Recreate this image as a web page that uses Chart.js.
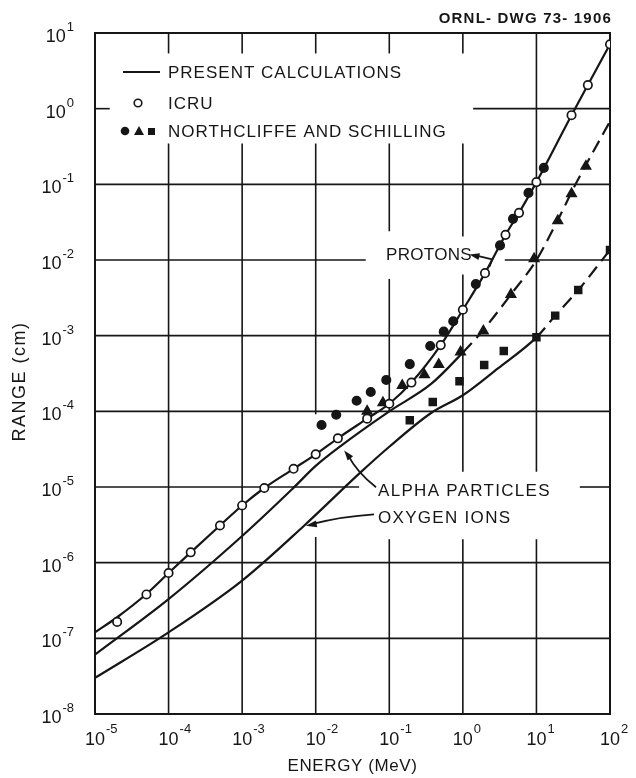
<!DOCTYPE html>
<html>
<head>
<meta charset="utf-8">
<script src="https://cdn.jsdelivr.net/npm/chart.js@4.4.1/dist/chart.umd.min.js"></script>
<style>
  html, body { margin: 0; padding: 0; background: #fff; }
  canvas { display: block; }
</style>
</head>
<body>
<canvas id="chart" width="636" height="778"></canvas>
<script>
// values: energy in MeV, range in cm
const energyTicks = [1e-5, 1e-4, 1e-3, 1e-2, 1e-1, 1, 10, 100];
const rangeTicks = [1e-8, 1e-7, 1e-6, 1e-5, 1e-4, 1e-3, 1e-2, 1e-1, 1, 10];

// present calculations (curves)
const protonCalcE = [1e-5, 2e-5, 5e-5, 1e-4, 2e-4, 5e-4, 1e-3, 2e-3, 5e-3, 1e-2, 2e-2, 5e-2, 0.1, 0.2, 0.5, 1, 2, 3.8, 5.8, 10, 30, 50, 100];
const protonCalcR = [1.2e-7, 1.9e-7, 3.85e-7, 7.3e-7, 1.37e-6, 3.1e-6, 5.7e-6, 9.7e-6, 1.74e-5, 2.7e-5, 4.4e-5, 8.0e-5, 1.26e-4, 2.4e-4, 7.5e-4, 2.2e-3, 6.7e-3, 0.0215, 0.042, 0.107, 0.82, 2.05, 7.1];

const alphaCalcE = [1e-5, 1e-4, 1e-3, 4.8e-3, 1e-2, 2.2e-2, 0.1, 0.37, 1, 1.8, 4.6, 10, 19, 34, 100];
const alphaCalcR = [6.1e-8, 3.3e-7, 2.25e-6, 9.4e-6, 1.9e-5, 3.5e-5, 1.0e-4, 2.3e-4, 6.0e-4, 1.12e-3, 3.6e-3, 0.01, 0.032, 0.1, 0.68];

const oxygenCalcE = [1e-5, 1e-4, 1e-3, 7e-3, 0.041, 0.1, 0.37, 1, 3, 10, 18, 37, 100];
const oxygenCalcR = [3.0e-8, 1.2e-7, 5.8e-7, 3.1e-6, 1.57e-5, 3.4e-5, 9.5e-5, 1.63e-4, 3.7e-4, 9.5e-4, 1.84e-3, 4.0e-3, 0.0136];

// ICRU (open circles)
const icruE = [2e-5, 5e-5, 1e-4, 2e-4, 5e-4, 1e-3, 2e-3, 5e-3, 1e-2, 2e-2, 5e-2, 0.1, 0.2, 0.5, 1, 2, 3.8, 5.8, 10, 30, 50, 100];
const icruR = [1.65e-7, 3.8e-7, 7.3e-7, 1.37e-6, 3.1e-6, 5.7e-6, 9.7e-6, 1.74e-5, 2.7e-5, 4.4e-5, 8.0e-5, 1.26e-4, 2.4e-4, 7.5e-4, 2.2e-3, 6.7e-3, 0.0215, 0.042, 0.107, 0.82, 2.05, 7.1];

// Northcliffe and Schilling
const nsProtonE = [0.012, 0.019, 0.036, 0.056, 0.091, 0.19, 0.36, 0.55, 0.74, 1.5, 3.2, 4.8, 7.8, 12.6];
const nsProtonR = [6.6e-5, 9.0e-5, 1.38e-4, 1.8e-4, 2.6e-4, 4.2e-4, 7.3e-4, 1.13e-3, 1.55e-3, 4.8e-3, 0.0156, 0.035, 0.077, 0.165];

const nsAlphaE = [0.05, 0.082, 0.15, 0.3, 0.47, 0.93, 1.9, 4.5, 9.3, 19.5, 30, 47];
const nsAlphaR = [1.0e-4, 1.3e-4, 2.2e-4, 3.05e-4, 4.15e-4, 6.1e-4, 1.15e-3, 3.5e-3, 0.0104, 0.033, 0.075, 0.174];

const nsOxygenE = [0.19, 0.39, 0.9, 1.95, 3.6, 10, 18, 37, 100];
const nsOxygenR = [7.6e-5, 1.33e-4, 2.5e-4, 4.1e-4, 6.25e-4, 9.5e-4, 1.84e-3, 4.0e-3, 0.0136];

const INK = '#161616';
const FONT = '"Liberation Sans", Arial, "DejaVu Sans", sans-serif';

// where the drafter left the grid open for lettering (log10 units)
const gridGaps = {
	vertical: {
		'-4': [[0.73, -0.46]],
		'-3': [[0.73, -0.46]],
		'-2': [[0.73, -0.46], [-4.04, -5.66]],
		'-1': [[0.73, -0.46], [-1.62, -2.25], [-4.01, -5.69]],
		'0': [[0.73, -0.46], [-1.69, -2.19], [-4.8, -5.69]],
		'1': [[-4.8, -5.69]]
	},
	horizontal: {
		'0': [[-4.8, 0.14]],
		'-2': [[-1.32, 0.57]],
		'-5': [[-1.41, 1.59]]
	}
};

const pts = (xs, ys) => xs.map((v, i) => ({ x: v, y: ys[i] }));

function openSegments(lo, hi, gaps) {
	const g = gaps.map(([p, q]) => [Math.min(p, q), Math.max(p, q)]).sort((m, n) => m[0] - n[0]);
	const out = [];
	let cur = lo;
	g.forEach(([p, q]) => {
		if (p > cur) out.push([cur, p]);
		cur = Math.max(cur, q);
	});
	if (cur < hi) out.push([cur, hi]);
	return out;
}

function strokeLine(ctx, x1, y1, x2, y2) {
	ctx.beginPath();
	ctx.moveTo(x1, y1);
	ctx.lineTo(x2, y2);
	ctx.stroke();
}

function arrowHead(ctx, tipX, tipY, fromX, fromY, len, half) {
	const ang = Math.atan2(tipY - fromY, tipX - fromX);
	ctx.beginPath();
	ctx.moveTo(tipX, tipY);
	ctx.lineTo(tipX - len * Math.cos(ang) + half * Math.sin(ang), tipY - len * Math.sin(ang) - half * Math.cos(ang));
	ctx.lineTo(tipX - len * Math.cos(ang) - half * Math.sin(ang), tipY - len * Math.sin(ang) + half * Math.cos(ang));
	ctx.closePath();
	ctx.fill();
}

const paperGrid = {
	id: 'paperGrid',
	beforeDatasetsDraw(chart) {
		const { ctx, chartArea: a, scales: { x, y } } = chart;
		ctx.save();
		ctx.strokeStyle = INK;
		ctx.lineWidth = 1.6;
		for (let k = -4; k <= 1; k++) {
			const px = x.getPixelForValue(10 ** k);
			openSegments(-8, 1, gridGaps.vertical[k] || []).forEach(([lo, hi]) => {
				strokeLine(ctx, px, y.getPixelForValue(10 ** lo), px, y.getPixelForValue(10 ** hi));
			});
		}
		for (let k = -7; k <= 0; k++) {
			const py = y.getPixelForValue(10 ** k);
			openSegments(-5, 2, gridGaps.horizontal[k] || []).forEach(([lo, hi]) => {
				strokeLine(ctx, x.getPixelForValue(10 ** lo), py, x.getPixelForValue(10 ** hi), py);
			});
		}
		ctx.lineWidth = 2;
		ctx.strokeRect(a.left, a.top, a.right - a.left, a.bottom - a.top);
		ctx.restore();
	}
};

const lettering = {
	id: 'lettering',
	afterDraw(chart) {
		const { ctx, chartArea: a, scales: { x, y } } = chart;
		const P = (le, lr) => [x.getPixelForValue(10 ** le), y.getPixelForValue(10 ** lr)];
		ctx.save();
		ctx.fillStyle = INK;
		ctx.strokeStyle = INK;
		ctx.textBaseline = 'alphabetic';

		// tick labels, 10 with raised exponent
		rangeTicks.forEach(v => {
			const py = y.getPixelForValue(v);
			const e = String(Math.round(Math.log10(v)));
			ctx.font = '18px ' + FONT;
			const bw = ctx.measureText('10').width;
			ctx.font = '13px ' + FONT;
			const ew = ctx.measureText(e).width;
			const start = a.left - 21 - bw - ew - 1;
			ctx.font = '18px ' + FONT;
			ctx.fillText('10', start, py + 9);
			ctx.font = '13px ' + FONT;
			ctx.fillText(e, start + bw + 1, py - 2);
		});
		energyTicks.forEach(v => {
			const px = x.getPixelForValue(v);
			const e = String(Math.round(Math.log10(v)));
			ctx.font = '18px ' + FONT;
			const bw = ctx.measureText('10').width;
			ctx.fillText('10', px - bw / 2, a.bottom + 31);
			ctx.font = '13px ' + FONT;
			ctx.fillText(e, px + bw / 2 + 1, a.bottom + 19);
		});

		// axis titles and drawing number
		ctx.font = '17px ' + FONT;
		ctx.textAlign = 'center';
		ctx.letterSpacing = '0.6px';
		ctx.fillText('ENERGY (MeV)', (a.left + a.right) / 2, a.bottom + 57);
		ctx.save();
		ctx.translate(a.left - 70, (a.top + a.bottom) / 2 + 8);
		ctx.rotate(-Math.PI / 2);
		ctx.font = '18px ' + FONT;
		ctx.letterSpacing = '1.5px';
		ctx.fillText('RANGE (cm)', 0, 0);
		ctx.restore();
		ctx.textAlign = 'right';
		ctx.font = 'bold 15px ' + FONT;
		ctx.letterSpacing = '1.2px';
		ctx.fillText('ORNL- DWG 73- 1906', a.right + 2, a.top - 10);

		// legend
		ctx.textAlign = 'left';
		ctx.font = '17px ' + FONT;
		ctx.letterSpacing = '1px';
		ctx.lineWidth = 2;
		const lx = a.left + 73;
		strokeLine(ctx, a.left + 28, a.top + 39, a.left + 65, a.top + 39);
		ctx.fillText('PRESENT CALCULATIONS', lx, a.top + 45);
		ctx.lineWidth = 1.6;
		ctx.beginPath();
		ctx.arc(a.left + 43, a.top + 70, 3.8, 0, Math.PI * 2);
		ctx.stroke();
		ctx.fillText('ICRU', lx, a.top + 76);
		ctx.beginPath();
		ctx.arc(a.left + 30, a.top + 98, 4.3, 0, Math.PI * 2);
		ctx.fill();
		ctx.beginPath();
		ctx.moveTo(a.left + 44, a.top + 93);
		ctx.lineTo(a.left + 49, a.top + 102);
		ctx.lineTo(a.left + 39, a.top + 102);
		ctx.closePath();
		ctx.fill();
		ctx.fillRect(a.left + 53, a.top + 95, 7, 7);
		ctx.fillText('NORTHCLIFFE AND SCHILLING', lx, a.top + 104);

		// curve labels with leaders
		ctx.letterSpacing = '0.3px';
		const [ptx, pty] = P(-1.044, -1.927);
		ctx.fillText('PROTONS', ptx, pty + 6);
		const [q1x, q1y] = P(0.09, -1.927);
		const [q2x, q2y] = P(0.4, -1.993);
		const [q3x, q3y] = P(0.36, -2.09);
		ctx.lineWidth = 1.8;
		ctx.beginPath();
		ctx.moveTo(q1x + 6, q1y + 1);
		ctx.lineTo(q2x, q2y);
		ctx.lineTo(q3x, q3y);
		ctx.stroke();
		arrowHead(ctx, q1x, q1y, q2x, q2y, 10, 3.5);

		ctx.letterSpacing = '1.3px';
		const [alx, aly] = P(-1.153, -5.034);
		ctx.fillText('ALPHA PARTICLES', alx, aly + 6);
		const [a0x, a0y] = P(-1.18, -5.004);
		const [a1x, a1y] = P(-1.4, -4.78);
		const [a2x, a2y] = P(-1.613, -4.517);
		ctx.beginPath();
		ctx.moveTo(a0x, a0y);
		ctx.quadraticCurveTo(a1x - 3, a1y + 2, a2x + 4, a2y + 5);
		ctx.stroke();
		arrowHead(ctx, a2x, a2y, a1x, a1y, 10, 3.5);

		const [ox, oy] = P(-1.153, -5.4);
		ctx.fillText('OXYGEN IONS', ox, oy + 6);
		const [o0x, o0y] = P(-1.207, -5.362);
		const [o1x, o1y] = P(-1.65, -5.39);
		const [o2x, o2y] = P(-2.135, -5.512);
		ctx.beginPath();
		ctx.moveTo(o0x, o0y);
		ctx.quadraticCurveTo(o1x, o1y, o2x + 8, o2y - 2);
		ctx.stroke();
		arrowHead(ctx, o2x, o2y, o1x, o1y + 3, 11, 3.5);

		ctx.restore();
	}
};

const curve = (data, dashFrom) => ({
	data: data,
	showLine: true,
	borderColor: INK,
	borderWidth: 2.2,
	pointRadius: 0,
	cubicInterpolationMode: 'monotone',
	order: 3,
	segment: {
		borderDash: ctx => (dashFrom && ctx.p0.parsed.x >= dashFrom ? [13, 7] : undefined)
	}
});

const marker = (data, style, radius, fill) => ({
	data: data,
	showLine: false,
	pointStyle: style,
	pointRadius: radius,
	pointBackgroundColor: fill,
	pointBorderColor: INK,
	pointBorderWidth: 1.7,
	order: 1
});

new Chart(document.getElementById('chart').getContext('2d'), {
	type: 'scatter',
	data: {
		datasets: [
			curve(pts(protonCalcE, protonCalcR), null),
			curve(pts(alphaCalcE, alphaCalcR), 0.99),
			curve(pts(oxygenCalcE, oxygenCalcR), 9.9),
			marker(pts(icruE, icruR), 'circle', 4.2, '#fff'),
			marker(pts(nsProtonE, nsProtonR), 'circle', 4.2, INK),
			marker(pts(nsAlphaE, nsAlphaR), 'triangle', 5.3, INK),
			marker(pts(nsOxygenE, nsOxygenR), 'rect', 4.8, INK)
		]
	},
	options: {
		responsive: false,
		animation: false,
		devicePixelRatio: 1,
		layout: { padding: { left: 95, right: 26, top: 33, bottom: 64 } },
		plugins: { legend: { display: false }, tooltip: { enabled: false } },
		scales: {
			x: { type: 'logarithmic', min: 1e-5, max: 100, display: false },
			y: { type: 'logarithmic', min: 1e-8, max: 10, display: false }
		}
	},
	plugins: [paperGrid, lettering]
});
</script>
</body>
</html>
